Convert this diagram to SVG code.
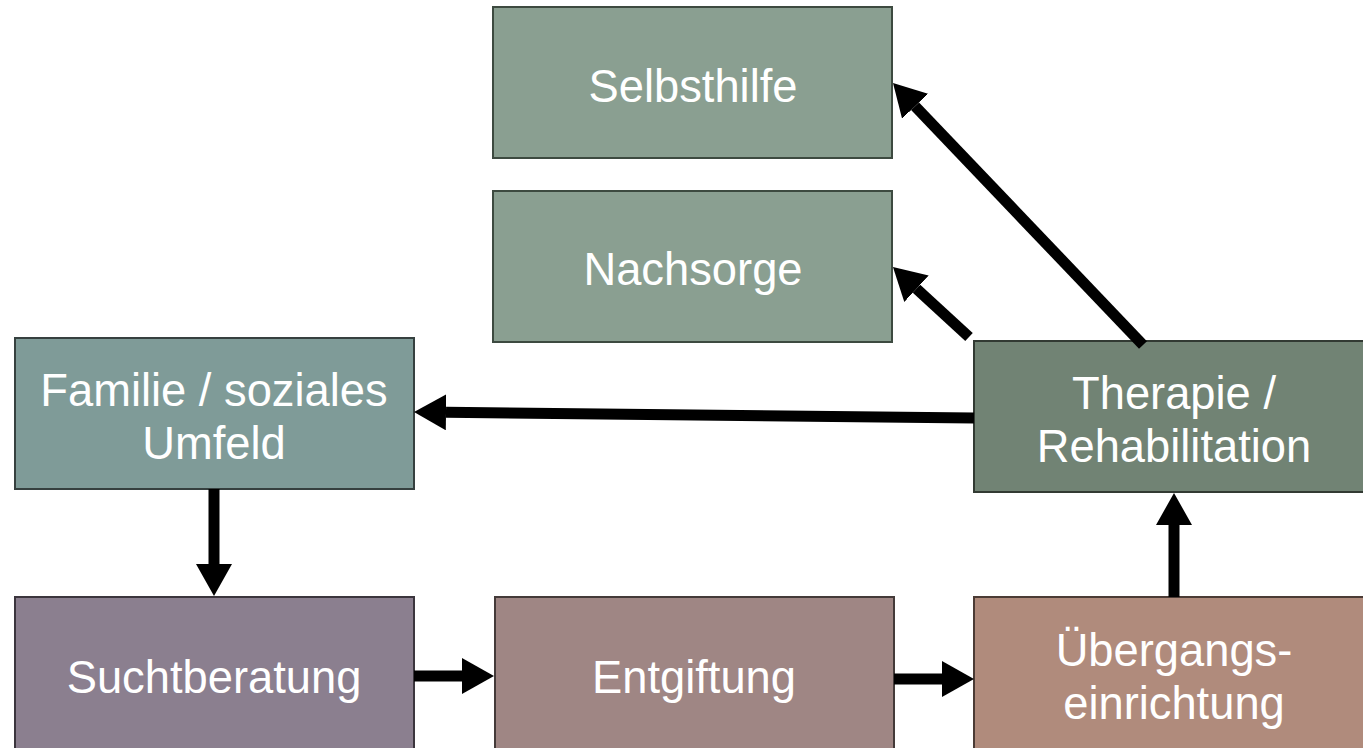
<svg xmlns="http://www.w3.org/2000/svg" width="1363" height="748" viewBox="0 0 1363 748">
<style>
.box{stroke-width:2}
.lbl{font-family:"Liberation Sans",Arial,sans-serif;font-size:45.3px;fill:#ffffff;text-anchor:middle}
.conn line{stroke:#000;stroke-width:11;fill:none;marker-end:url(#ah)}
</style>
<defs>
<marker id="ah" markerUnits="userSpaceOnUse" viewBox="0 0 32 36" refX="0" refY="18" markerWidth="32" markerHeight="36" orient="auto">
<path d="M0,0 L32,18 L0,36 z" fill="#000"/>
</marker>
</defs>
<rect width="1363" height="748" fill="#ffffff"/>
<g id="selbsthilfe"><rect class="box" x="493" y="7" width="399" height="151" fill="#8a9f91" stroke="#3d4a40"/><text class="lbl" x="693" y="102">Selbsthilfe</text></g>
<g id="nachsorge"><rect class="box" x="493" y="191" width="399" height="151" fill="#8a9f91" stroke="#3d4a40"/><text class="lbl" x="693" y="285">Nachsorge</text></g>
<g id="familie"><rect class="box" x="15" y="338" width="399" height="151" fill="#7f9b98" stroke="#36403f"/><text class="lbl" x="214" y="406">Familie / soziales</text><text class="lbl" x="214" y="459">Umfeld</text></g>
<g id="therapie"><rect class="box" x="974" y="341" width="400" height="151" fill="#718374" stroke="#323a33"/><text class="lbl" x="1174" y="409">Therapie /</text><text class="lbl" x="1174" y="462">Rehabilitation</text></g>
<g id="suchtberatung"><rect class="box" x="15" y="597" width="399" height="160" fill="#8b7f8f" stroke="#3b353d"/><text class="lbl" x="214" y="693">Suchtberatung</text></g>
<g id="entgiftung"><rect class="box" x="495" y="597" width="399" height="160" fill="#9f8684" stroke="#443a39"/><text class="lbl" x="694" y="693">Entgiftung</text></g>
<g id="uebergang"><rect class="box" x="974" y="597" width="400" height="160" fill="#b08b7c" stroke="#4b3b35"/><text class="lbl" x="1174" y="666">Übergangs-</text><text class="lbl" x="1174" y="719">einrichtung</text></g>
<g id="connectors" class="conn">
<line x1="214" y1="489" x2="214" y2="564"/>
<line x1="414" y1="676" x2="462" y2="676"/>
<line x1="894" y1="679" x2="942" y2="679"/>
<line x1="1174" y1="597" x2="1174" y2="525"/>
<line x1="974" y1="418" x2="446" y2="412.3"/>
<line x1="969" y1="337" x2="916.5" y2="288.7"/>
<line x1="1143" y1="345" x2="915.1" y2="106.2"/>
</g>
</svg>
